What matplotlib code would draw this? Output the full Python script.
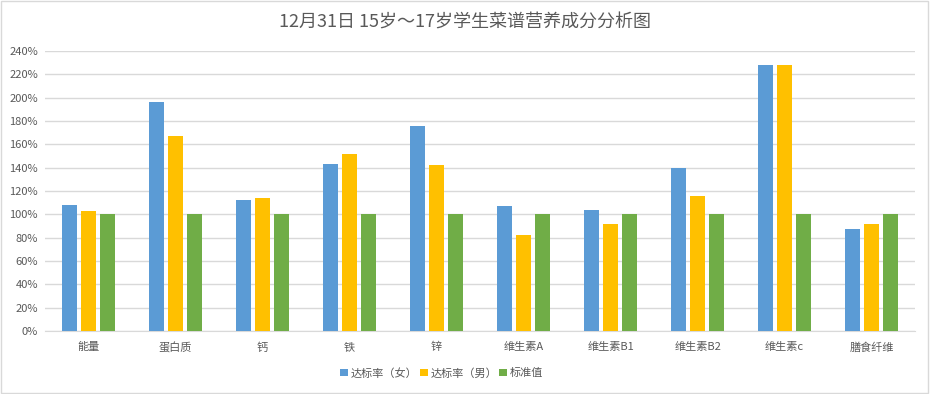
import numpy as np
import matplotlib.pyplot as plt
from matplotlib.ticker import FuncFormatter
from matplotlib.patches import Rectangle

plt.rcParams['font.family'] = ['Noto Sans CJK SC', 'DejaVu Sans']

# 数据
categories = ['能量', '蛋白质', '钙', '铁', '锌', '维生素A', '维生素B1', '维生素B2', '维生素c', '膳食纤维']
rate_female = [1.08, 1.96, 1.12, 1.43, 1.76, 1.07, 1.04, 1.40, 2.28, 0.87]
rate_male = [1.03, 1.67, 1.14, 1.52, 1.42, 0.82, 0.92, 1.16, 2.28, 0.92]
standard = [1.00, 1.00, 1.00, 1.00, 1.00, 1.00, 1.00, 1.00, 1.00, 1.00]
series_names = ['达标率（女）', '达标率（男）', '标准值']
colors = ['#5B9BD5', '#FFC000', '#70AD47']

fig = plt.figure(figsize=(9.3, 3.94), dpi=100)
ax = fig.add_axes([0.0484, 0.160, 0.9356, 0.7106])

x = np.arange(len(categories))
w = 0.172
step = 0.222
for i, (vals, name) in enumerate(zip([rate_female, rate_male, standard], series_names)):
    ax.bar(x + (i - 1) * step, vals, width=w, color=colors[i], label=name, zorder=3)

ax.set_xlim(-0.5, len(categories) - 0.5)
ax.set_ylim(0, 2.4)
ax.set_yticks(np.arange(0, 2.41, 0.2))
ax.yaxis.set_major_formatter(FuncFormatter(lambda v, p: f'{v * 100:.0f}%'))
ax.set_xticks(x)
ax.set_xticklabels(categories)
ax.grid(axis='y', color='#D9D9D9', linewidth=1, zorder=0)
for s in ['top', 'right', 'left']:
    ax.spines[s].set_visible(False)
ax.spines['bottom'].set_color('#D9D9D9')
ax.tick_params(axis='both', length=0, colors='#595959', labelsize=8)
ax.tick_params(axis='x', pad=8)
ax.tick_params(axis='y', pad=5)

fig.suptitle('12月31日 15岁～17岁学生菜谱营养成分分析图', y=0.965, fontsize=13, color='#595959')

leg = fig.legend(loc='center', bbox_to_anchor=(0.475, 0.053), ncol=3, frameon=False,
                 fontsize=8, handlelength=0.7, handleheight=0.7, handletextpad=0.25,
                 columnspacing=0.2)
for t in leg.get_texts():
    t.set_color('#595959')

fig.patches.append(Rectangle((0.001, 0.002), 0.997, 0.995, transform=fig.transFigure,
                             fill=False, edgecolor='#D9D9D9', linewidth=1))

fig.savefig('out.png', dpi=100)
